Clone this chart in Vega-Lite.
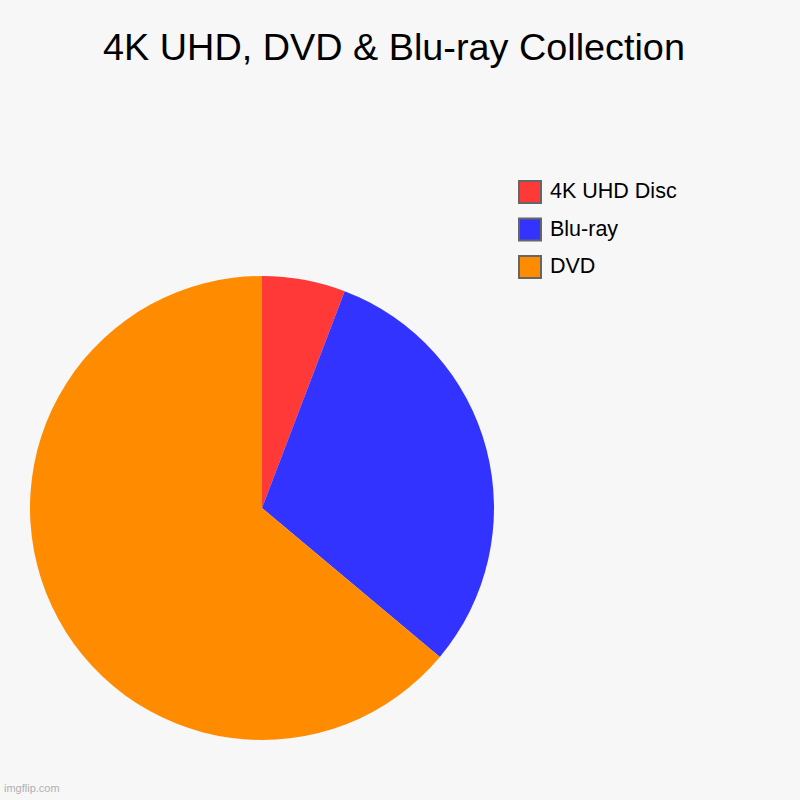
{
  "$schema": "https://vega.github.io/schema/vega-lite/v6.json",
  "description": "Pie chart of a disc collection by format.",
  "autosize": {"type": "pad"},
  "padding": {"left": 0, "top": 30, "right": 115, "bottom": 6},
  "background": "#f7f7f7",
  "title": {
    "text": "4K UHD, DVD & Blu-ray Collection",
    "anchor": "middle",
    "frame": "group",
    "dx": 132,
    "offset": 112,
    "font": "Liberation Sans",
    "fontSize": 37.8,
    "fontWeight": "normal",
    "color": "#000000"
  },
  "config": {
    "view": {"stroke": null, "fill": "#f7f7f7"},
    "concat": {"spacing": 0}
  },
  "vconcat": [
    {
      "width": 524,
      "height": 464,
      "title": {
        "text": "imgflip.com",
        "orient": "bottom",
        "anchor": "start",
        "dx": 4,
        "offset": 43,
        "font": "Liberation Sans",
        "fontSize": 11,
        "fontWeight": "normal",
        "color": "#b0b0b0"
      },
      "data": {
        "values": [
          {"format": "4K UHD Disc", "count": 5.8},
          {"format": "Blu-ray", "count": 30.3},
          {"format": "DVD", "count": 63.9}
        ]
      },
      "mark": {"type": "arc", "stroke": null},
      "encoding": {
        "theta": {"field": "count", "type": "quantitative", "stack": true},
        "color": {
          "field": "format",
          "type": "nominal",
          "sort": ["4K UHD Disc", "Blu-ray", "DVD"],
          "scale": {
            "domain": ["4K UHD Disc", "Blu-ray", "DVD"],
            "range": ["#ff3838", "#3333ff", "#ff8c00"]
          },
          "legend": {
            "title": null,
            "orient": "none",
            "legendX": 518,
            "legendY": -96,
            "symbolType": "square",
            "symbolSize": 484,
            "symbolStrokeColor": "#666666",
            "symbolStrokeWidth": 2,
            "symbolOpacity": 1,
            "rowPadding": 7.5,
            "labelOffset": 8,
            "labelFont": "Liberation Sans",
            "labelFontSize": 21.5,
            "labelColor": "#000000"
          }
        },
        "order": {"field": "format", "sort": "ascending"}
      }
    }
  ]
}
